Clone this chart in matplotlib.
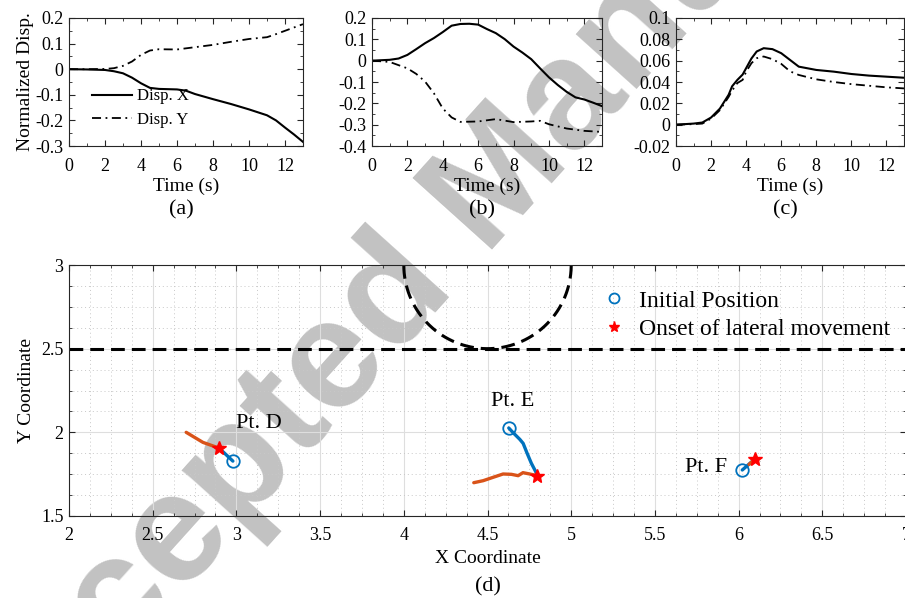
import numpy as np
import matplotlib
matplotlib.use('Agg')
from matplotlib import pyplot as plt
from matplotlib.ticker import MultipleLocator, FuncFormatter

# ---- panel (a) ----
t_ax = [0, 1, 2, 2.5, 3, 3.5, 4, 4.5, 5, 6, 6.5, 7, 8, 9, 10, 11, 11.5, 12, 12.5, 13]
disp_x_a = [0, -0.001, -0.003, -0.008, -0.016, -0.033, -0.055, -0.073, -0.077, -0.079,
            -0.084, -0.097, -0.117, -0.136, -0.157, -0.18, -0.2, -0.228, -0.255, -0.284]
t_ay = [0, 1, 2, 2.5, 3, 3.5, 4, 4.5, 5, 6, 7, 8, 9, 10, 11, 11.5, 12, 13]
disp_y_a = [0, 0, 0.001, 0.004, 0.013, 0.03, 0.056, 0.073, 0.078, 0.077, 0.086, 0.095,
            0.107, 0.118, 0.125, 0.137, 0.15, 0.176]

# ---- panel (b) ----
t_bx = [0, 1, 1.5, 2, 2.5, 3, 3.5, 4, 4.5, 5, 5.5, 6, 6.5, 7, 7.5, 8, 8.5, 9, 9.5,
        10, 10.5, 11, 11.5, 12, 12.5, 13]
disp_x_b = [0, 0.004, 0.01, 0.027, 0.054, 0.082, 0.106, 0.134, 0.164, 0.172, 0.173, 0.169,
            0.148, 0.129, 0.101, 0.066, 0.038, 0.007, -0.036, -0.078, -0.114, -0.146,
            -0.172, -0.182, -0.197, -0.213]
t_by = [0, 1, 2, 2.5, 3, 3.5, 4, 4.5, 5, 6, 7, 8, 9, 9.5, 10, 11, 12, 13]
disp_y_b = [0, -0.006, -0.036, -0.062, -0.098, -0.153, -0.224, -0.266, -0.287, -0.285,
            -0.274, -0.288, -0.285, -0.282, -0.298, -0.318, -0.329, -0.334]

# ---- panel (c) ----
t_c = [0, 1, 1.5, 2, 2.5, 3, 3.2, 3.5, 3.8, 4, 4.3, 4.6, 5, 5.5, 6, 6.5, 7, 8, 9, 10,
       11, 12, 13]
disp_x_c = [0, 0.001, 0.002, 0.0067, 0.015, 0.028, 0.036, 0.042, 0.047, 0.053, 0.062,
            0.0686, 0.0717, 0.0708, 0.067, 0.0607, 0.0544, 0.0513, 0.0497, 0.0475,
            0.046, 0.045, 0.044]
disp_y_c = [0, 0.0005, 0.001, 0.0057, 0.0136, 0.026, 0.032, 0.039, 0.042, 0.0497, 0.0576,
            0.0623, 0.0639, 0.0614, 0.057, 0.050, 0.0466, 0.0425, 0.040, 0.038,
            0.0365, 0.035, 0.034]

# ---- panel (d) trajectories ----
d_pre_x = [2.979, 2.94, 2.896]
d_pre_y = [1.828, 1.865, 1.906]
d_post_x = [2.896, 2.80, 2.70]
d_post_y = [1.906, 1.94, 2.00]

e_pre_x = [4.627, 4.653, 4.693, 4.713, 4.737, 4.762, 4.788, 4.798]
e_pre_y = [2.026, 1.998, 1.958, 1.934, 1.874, 1.815, 1.765, 1.741]
e_post_x = [4.798, 4.752, 4.712, 4.683, 4.643, 4.593, 4.533, 4.474, 4.418]
e_post_y = [1.741, 1.751, 1.759, 1.741, 1.749, 1.751, 1.731, 1.711, 1.699]

f_pre_x = [6.022, 6.096]
f_pre_y = [1.775, 1.839]
f_post_x = [6.096, 6.062]
f_post_y = [1.839, 1.808]

pt_names = ['Pt. D', 'Pt. E', 'Pt. F']
pt_text_x = [3.0, 4.518, 5.678]
pt_text_y = [2.026, 2.157, 1.763]

boundary_y = 2.5
arc_cx, arc_cy, arc_r = 4.5, 3.0, 0.5

plt.rcParams['font.family'] = ['Liberation Serif', 'DejaVu Serif']
plt.rcParams['axes.unicode_minus'] = False
plt.rcParams['xtick.direction'] = 'in'
plt.rcParams['ytick.direction'] = 'in'
plt.rcParams['xtick.top'] = True
plt.rcParams['ytick.right'] = True

AX_COL = '#262626'
BLUE = '#0072BD'
ORANGE = '#D95319'
fmt = FuncFormatter(lambda v, p: f'{round(v, 6):g}')

W, H = 905, 598
fig = plt.figure(figsize=(W / 100, H / 100), dpi=100)
fig.patch.set_facecolor('white')


def px_axes(x0, x1, y_top, y_bot):
    a = fig.add_axes([x0 / W, 1 - y_bot / H, (x1 - x0) / W, (y_bot - y_top) / H])
    a.set_facecolor('none')
    return a


def style(ax, fs=13):
    for s in ax.spines.values():
        s.set_color(AX_COL)
        s.set_linewidth(0.8)
    ax.tick_params(which='both', colors=AX_COL, labelcolor='black', labelsize=fs)
    ax.tick_params(which='major', length=4, width=0.8)
    ax.tick_params(which='minor', length=2, width=0.6)
    ax.xaxis.set_major_formatter(fmt)
    ax.yaxis.set_major_formatter(fmt)


dashdot = (0, (5, 2.5, 1, 2.5))
top_axes = [px_axes(69, 303, 18, 146), px_axes(372, 602, 18, 146), px_axes(676, 904, 18, 146)]
series = [(t_ax, disp_x_a, t_ay, disp_y_a), (t_bx, disp_x_b, t_by, disp_y_b),
          (t_c, disp_x_c, t_c, disp_y_c)]
ylims = [(-0.3, 0.2), (-0.4, 0.2), (-0.02, 0.1)]
ysteps = [(0.1, 0.05), (0.1, 0.05), (0.02, 0.01)]
panel_tags = ['(a)', '(b)', '(c)']

for ax, (tx, vx, ty, vy), yl, (ymaj, ymin), tag in zip(top_axes, series, ylims, ysteps, panel_tags):
    ax.plot(tx, vx, color='black', lw=1.5, label='Disp. X')
    ax.plot(ty, vy, color='black', lw=1.3, linestyle=dashdot, label='Disp. Y')
    ax.set_xlim(0, 13)
    ax.set_ylim(*yl)
    ax.xaxis.set_major_locator(MultipleLocator(2))
    ax.xaxis.set_minor_locator(MultipleLocator(1))
    ax.yaxis.set_major_locator(MultipleLocator(ymaj))
    ax.yaxis.set_minor_locator(MultipleLocator(ymin))
    style(ax)
    ax.tick_params(axis='x', pad=8.5)
    ax.tick_params(axis='y', pad=4)
    ax.set_xlabel('Time (s)', fontsize=14, labelpad=2)
    bb = ax.get_position()
    fig.text(bb.x0 + bb.width / 2 - 0.005, 1 - 210 / H, tag, fontsize=16, ha='center', va='center')

top_axes[0].set_ylabel('Normalized Disp.', fontsize=14, labelpad=1)
top_axes[0].legend(loc='upper left', bbox_to_anchor=(0.1, 0.45), frameon=False, fontsize=12,
                   handlelength=2.4, handletextpad=0.3, labelspacing=0.45,
                   borderpad=0, borderaxespad=0)

# ---- panel (d) ----
ax = px_axes(69, 906, 265, 516)
ax.set_xlim(2, 7)
ax.set_ylim(1.5, 3)
ax.xaxis.set_major_locator(MultipleLocator(0.5))
ax.xaxis.set_minor_locator(MultipleLocator(0.125))
ax.yaxis.set_major_locator(MultipleLocator(0.5))
ax.yaxis.set_minor_locator(MultipleLocator(0.125))
ax.set_axisbelow(True)
ax.grid(which='major', color='#dedede', lw=0.8)
ax.grid(which='minor', color='#c8c8c8', lw=0.7, linestyle=(0, (1, 3)))
style(ax)
ax.tick_params(axis='x', pad=8)
ax.tick_params(axis='y', pad=4)

ax.axhline(boundary_y, color='black', lw=2.2, linestyle=(0, (4.5, 2.3)))
th = np.linspace(np.pi, 2 * np.pi, 200)
ax.plot(arc_cx + arc_r * np.cos(th), arc_cy + arc_r * np.sin(th), color='black', lw=2.2,
        linestyle=(0, (4.5, 2.3)))

for px_, py_, qx_, qy_ in [(d_pre_x, d_pre_y, d_post_x, d_post_y),
                           (e_pre_x, e_pre_y, e_post_x, e_post_y),
                           (f_pre_x, f_pre_y, f_post_x, f_post_y)]:
    ax.plot(px_, py_, color=BLUE, lw=2.4, solid_capstyle='round')
    ax.plot(qx_, qy_, color=ORANGE, lw=2.4, solid_capstyle='round')

init_x = [d_pre_x[0], e_pre_x[0], f_pre_x[0]]
init_y = [d_pre_y[0], e_pre_y[0], f_pre_y[0]]
onset_x = [d_pre_x[-1], e_pre_x[-1], f_pre_x[-1]]
onset_y = [d_pre_y[-1], e_pre_y[-1], f_pre_y[-1]]
ax.plot(init_x, init_y, 'o', ms=9, mfc='none', mec=BLUE, mew=1.3, label='Initial Position')
ax.plot(onset_x, onset_y, '*', ms=10, color='red', mec='red', label='Onset of lateral movement')

for name, tx, ty in zip(pt_names, pt_text_x, pt_text_y):
    ax.text(tx, ty, name, fontsize=16, ha='left', va='baseline')

ax.set_xlabel('X Coordinate', fontsize=14, labelpad=4)
ax.set_ylabel('Y Coordinate', fontsize=14, labelpad=4)
ax.legend(loc='upper left', bbox_to_anchor=(0.637, 0.9), frameon=False, fontsize=17,
          handlelength=1.0, handletextpad=0.55, labelspacing=0.3, borderpad=0,
          borderaxespad=0, markerscale=0.8)
fig.text((69 + 906) / 2 / W, 1 - 587 / H, '(d)', fontsize=16, ha='center', va='center')

# watermark sits under the plot content
fig.text(-12 / W, 1 - 810 / H, 'Accepted Manuscript', fontsize=112, family='Liberation Sans',
         weight='bold', color='#c2c2c2', rotation=48, rotation_mode='anchor',
         ha='left', va='baseline', zorder=-1)

fig.savefig('out.png', dpi=100)
